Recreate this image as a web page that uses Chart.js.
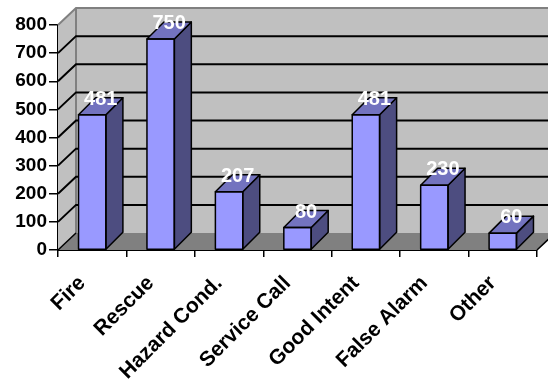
<!DOCTYPE html>
<html>
<head>
<meta charset="utf-8">
<script src="https://cdn.jsdelivr.net/npm/chart.js@4.4.1/dist/chart.umd.min.js"></script>
<style>
  html, body { margin: 0; padding: 0; background: #fff; }
  #wrap { width: 548px; height: 381px; }
</style>
</head>
<body>
<div id="wrap"><canvas id="c" width="548" height="381"></canvas></div>
<script>
(function () {
  'use strict';

  /* ---------- data ---------- */
  var categories = ['Fire', 'Rescue', 'Hazard Cond.', 'Service Call', 'Good Intent', 'False Alarm', 'Other'];
  var calls = [481, 750, 207, 80, 481, 230, 60];
  var yTicks = [0, 100, 200, 300, 400, 500, 600, 700, 800];

  /* ---------- 3D look ---------- */
  var DX = 18, DY = 17;           // depth offset of the back wall
  var BDX = 17, BDY = 17;         // depth of each bar
  var FONT = "'Liberation Sans', Arial, sans-serif";

  var box3d = {
    id: 'box3d',
    beforeDatasetsDraw: function (chart) {
      var ctx = chart.ctx, a = chart.chartArea, y = chart.scales.y;
      ctx.save();
      // back wall
      ctx.fillStyle = '#c0c0c0';
      ctx.fillRect(a.left + DX, a.top - DY, a.right - a.left + 4, a.bottom - a.top);
      // left side wall
      ctx.beginPath();
      ctx.moveTo(a.left, a.top); ctx.lineTo(a.left + DX, a.top - DY);
      ctx.lineTo(a.left + DX, a.bottom - DY); ctx.lineTo(a.left, a.bottom);
      ctx.closePath(); ctx.fill();
      // floor
      ctx.fillStyle = '#808080';
      ctx.beginPath();
      ctx.moveTo(a.left, a.bottom); ctx.lineTo(a.left + DX, a.bottom - DY);
      ctx.lineTo(a.right + DX, a.bottom - DY); ctx.lineTo(a.right, a.bottom);
      ctx.closePath(); ctx.fill();
      // wall edges
      ctx.strokeStyle = '#808080'; ctx.lineWidth = 2;
      ctx.beginPath();
      ctx.moveTo(a.left, a.top); ctx.lineTo(a.left + DX, a.top - DY);
      ctx.lineTo(a.right + DX + 4, a.top - DY);
      ctx.moveTo(a.left + DX, a.top - DY); ctx.lineTo(a.left + DX, a.bottom - DY);
      ctx.stroke();
      // grid lines on side and back wall
      ctx.strokeStyle = '#000'; ctx.lineWidth = 2;
      yTicks.forEach(function (v) {
        if (v === 0 || v === yTicks[yTicks.length - 1]) return;
        var py = y.getPixelForValue(v);
        ctx.beginPath();
        ctx.moveTo(a.left, py); ctx.lineTo(a.left + DX, py - DY);
        ctx.lineTo(a.right + DX + 4, py - DY);
        ctx.stroke();
      });
      // floor edges
      ctx.lineWidth = 1.5;
      ctx.beginPath();
      ctx.moveTo(a.left, a.bottom); ctx.lineTo(a.left + DX, a.bottom - DY);
      ctx.moveTo(a.right, a.bottom); ctx.lineTo(a.right + DX, a.bottom - DY);
      ctx.stroke();
      ctx.restore();
    },
    afterDatasetsDraw: function (chart) {
      var ctx = chart.ctx;
      var meta = chart.getDatasetMeta(0);
      ctx.save();
      ctx.lineWidth = 1.5; ctx.strokeStyle = '#000'; ctx.lineJoin = 'round';
      meta.data.forEach(function (bar, i) {
        var p = bar.getProps(['x', 'y', 'base', 'width'], true);
        var l = p.x - p.width / 2, r = p.x + p.width / 2, t = p.y, b = p.base;
        // side face
        ctx.fillStyle = '#4d4d80';
        ctx.beginPath();
        ctx.moveTo(r, t); ctx.lineTo(r + BDX, t - BDY);
        ctx.lineTo(r + BDX, b - BDY); ctx.lineTo(r, b);
        ctx.closePath(); ctx.fill(); ctx.stroke();
        // top face
        ctx.fillStyle = '#7373bf';
        ctx.beginPath();
        ctx.moveTo(l, t); ctx.lineTo(l + BDX, t - BDY);
        ctx.lineTo(r + BDX, t - BDY); ctx.lineTo(r, t);
        ctx.closePath(); ctx.fill(); ctx.stroke();
        // front outline
        ctx.strokeRect(l, t, r - l, b - t);
      });
      // value labels
      ctx.fillStyle = '#fff';
      ctx.font = 'bold 20px ' + FONT;
      ctx.textAlign = 'center'; ctx.textBaseline = 'alphabetic';
      meta.data.forEach(function (bar, i) {
        var p = bar.getProps(['x', 'y'], true);
        ctx.fillText(String(calls[i]), p.x + BDX / 2, p.y - 10);
      });
      ctx.restore();
    }
  };

  new Chart(document.getElementById('c'), {
    type: 'bar',
    data: {
      labels: categories,
      datasets: [{
        data: calls,
        backgroundColor: '#9999ff',
        borderWidth: 0,
        categoryPercentage: 1,
        barPercentage: 0.4
      }]
    },
    options: {
      responsive: false, animation: false,
      layout: { padding: { top: 25, right: 11, left: 0, bottom: 0 } },
      plugins: { legend: { display: false }, tooltip: { enabled: false } },
      scales: {
        y: {
          min: 0, max: 800,
          afterFit: function (s) { s.width = 58; },
          afterBuildTicks: function (s) { s.ticks = yTicks.map(function (v) { return { value: v }; }); },
          ticks: { color: '#000', padding: 2, font: { family: FONT, size: 19, weight: 'bold' } },
          grid: { display: true, drawOnChartArea: false, drawTicks: true, tickLength: 9, color: '#000', lineWidth: 1.5 },
          border: { display: true, color: '#000', width: 2 }
        },
        x: {
          afterFit: function (s) { s.height = 131; },
          ticks: {
            color: '#000', autoSkip: false, minRotation: 45, maxRotation: 45,
            padding: 14, labelOffset: -10,
            font: { family: FONT, size: 21, weight: 'bold' }
          },
          grid: { display: true, drawOnChartArea: false, drawTicks: true, tickLength: 7, color: '#000', lineWidth: 1.5 },
          border: { display: true, color: '#000', width: 2 }
        }
      }
    },
    plugins: [box3d]
  });
})();
</script>
</body>
</html>
